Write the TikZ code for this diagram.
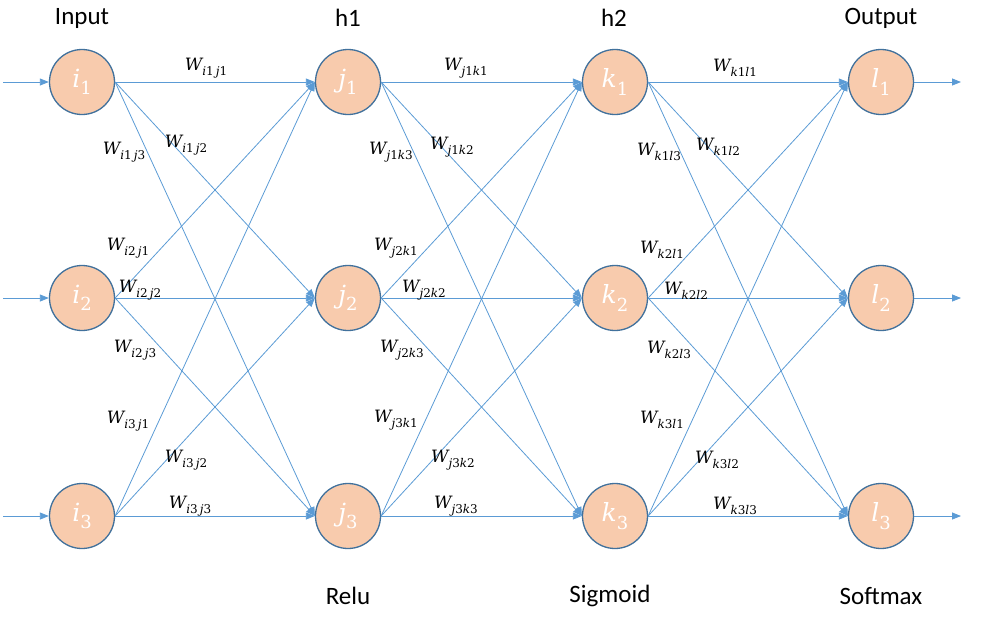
\documentclass[tikz,border=0pt]{standalone}
\usepackage{fontspec}
\newfontfamily\calibri{Carlito}
\newfontfamily\mathlike{DejaVu Serif}
\usetikzlibrary{arrows.meta}
\definecolor{nfill}{HTML}{F8CBAD}
\definecolor{nline}{HTML}{41719C}
\definecolor{eline}{HTML}{5B9BD5}
\newcommand\wsub[1]{\raisebox{-0.28em}{\fontsize{12}{12}\selectfont #1}}
\newcommand\Wl[4]{{\itshape W}\wsub{{\itshape #1}#2{\itshape #3}#4}}
\newcommand\nlab[2]{{\itshape #1}\raisebox{-0.3em}{\fontsize{18}{18}\selectfont #2}}
\tikzset{
  neuron/.style={circle, fill=nfill, draw=nline, line width=1.3pt, minimum size=65pt, inner sep=0pt, text=white, font=\mathlike\fontsize{25}{30}\selectfont},
  conn/.style={draw=eline, line width=0.8pt, -{Triangle[length=9pt,width=7pt]}},
  wlab/.style={font=\mathlike\fontsize{17}{20}\selectfont, inner sep=0pt},
  title/.style={font=\calibri\fontsize{25}{30}\selectfont, inner sep=0pt}
}
\begin{document}
\begin{tikzpicture}[x=1pt,y=-1pt]
\useasboundingbox (0,0) rectangle (1001,619);
% neurons
\node[neuron] (i1) at (82,82) {\nlab{i}{1}};
\node[neuron] (i2) at (82,298) {\nlab{i}{2}};
\node[neuron] (i3) at (82,516) {\nlab{i}{3}};
\node[neuron] (j1) at (348,82) {\nlab{j}{1}};
\node[neuron] (j2) at (348,298) {\nlab{j}{2}};
\node[neuron] (j3) at (348,516) {\nlab{j}{3}};
\node[neuron] (k1) at (615,82) {\nlab{k}{1}};
\node[neuron] (k2) at (615,298) {\nlab{k}{2}};
\node[neuron] (k3) at (615,516) {\nlab{k}{3}};
\node[neuron] (l1) at (881,82) {\nlab{l}{1}};
\node[neuron] (l2) at (881,298) {\nlab{l}{2}};
\node[neuron] (l3) at (881,516) {\nlab{l}{3}};
% input / output stubs
\coordinate (in1) at (3,82);
\coordinate (in2) at (3,298);
\coordinate (in3) at (3,516);
\coordinate (out1) at (961,82);
\coordinate (out2) at (961,298);
\coordinate (out3) at (961,516);
\foreach \n in {1,2,3}{
  \draw[conn] (in\n) -- (i\n.west);
  \draw[conn] (l\n.east) -- (out\n);
}
% connections
\foreach \a/\b in {i/j,j/k,k/l}{
  \foreach \s in {1,2,3}{
    \foreach \t in {1,2,3}{
      \draw[conn] (\a\s.east) -- (\b\t.west);
    }
  }
}
% titles
\node[title] (tin) at (82,18) {Input};
\node[title] (th1) at (348,18) {h1};
\node[title] (th2) at (614,18) {h2};
\node[title] (tout) at (881,18) {Output};
\node[title] (trelu) at (348,596) {Relu};
\node[title] (tsig) at (610,596) {Sigmoid};
\node[title] (tsoft) at (881,596) {Softmax};
% weight labels
\node[wlab] (w11) at (206,68) {\Wl{i}{1\,}{j}{1}};
\node[wlab] (w12) at (186,145) {\Wl{i}{1\,}{j}{2}};
\node[wlab] (w13) at (124,152) {\Wl{i}{1\,}{j}{3}};
\node[wlab] (w21) at (128,248) {\Wl{i}{2\,}{j}{1}};
\node[wlab] (w22) at (140,290) {\Wl{i}{2\,}{j}{2}};
\node[wlab] (w23) at (135,350) {\Wl{i}{2\,}{j}{3}};
\node[wlab] (w31) at (128,421) {\Wl{i}{3\,}{j}{1}};
\node[wlab] (w32) at (186,460) {\Wl{i}{3\,}{j}{2}};
\node[wlab] (w33) at (190,506) {\Wl{i}{3\,}{j}{3}};
\node[wlab] (v11) at (466,68) {\Wl{j}{1}{k}{1}};
\node[wlab] (v13) at (391,152) {\Wl{j}{1}{k}{3}};
\node[wlab] (v12) at (452,147) {\Wl{j}{1}{k}{2}};
\node[wlab] (v21) at (396,248) {\Wl{j}{2}{k}{1}};
\node[wlab] (v22) at (424,290) {\Wl{j}{2}{k}{2}};
\node[wlab] (v23) at (402,350) {\Wl{j}{2}{k}{3}};
\node[wlab] (v31) at (396,420) {\Wl{j}{3}{k}{1}};
\node[wlab] (v32) at (453,460) {\Wl{j}{3}{k}{2}};
\node[wlab] (v33) at (456,506) {\Wl{j}{3}{k}{3}};
\node[wlab] (u11) at (735,68) {\Wl{k}{1}{l}{1}};
\node[wlab] (u13) at (659,152) {\Wl{k}{1}{l}{3}};
\node[wlab] (u12) at (718,147) {\Wl{k}{1}{l}{2}};
\node[wlab] (u21) at (662,250) {\Wl{k}{2}{l}{1}};
\node[wlab] (u22) at (686,291) {\Wl{k}{2}{l}{2}};
\node[wlab] (u23) at (669,350) {\Wl{k}{2}{l}{3}};
\node[wlab] (u31) at (662,420) {\Wl{k}{3}{l}{1}};
\node[wlab] (u32) at (717,460) {\Wl{k}{3}{l}{2}};
\node[wlab] (u33) at (735,506) {\Wl{k}{3}{l}{3}};
\end{tikzpicture}
\end{document}
